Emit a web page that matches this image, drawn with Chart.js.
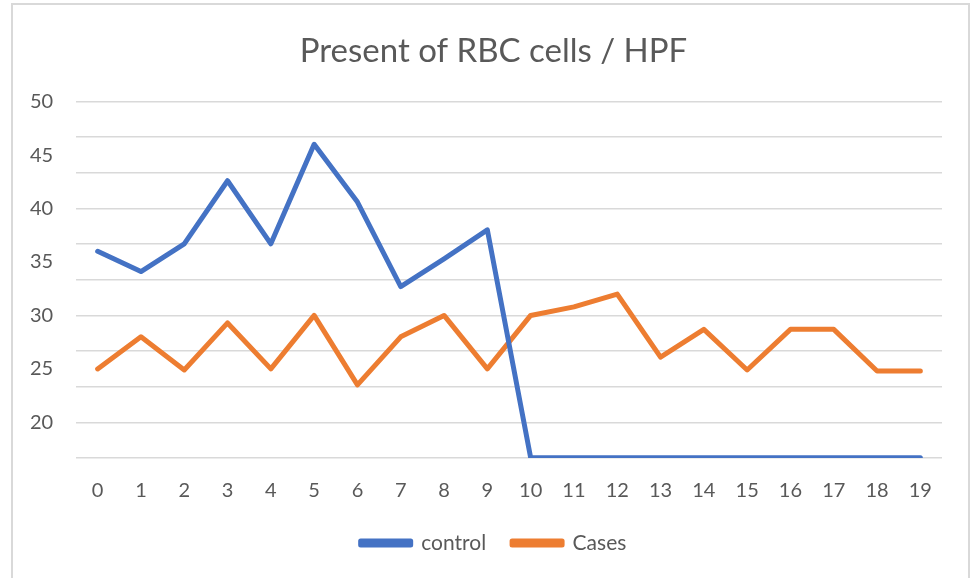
<!DOCTYPE html>
<html>
<head>
<meta charset="utf-8">
<script src="https://cdn.jsdelivr.net/npm/chart.js@4"></script>
<style>
  html, body { margin: 0; padding: 0; background: #fff; }
  #wrap { position: relative; width: 974px; height: 578px; overflow: hidden; }
  #frame { position: absolute; left: 11px; top: 3px; width: 959px; height: 600px; border: 2px solid #d9d9d9; box-sizing: border-box; }
  #myChart { position: absolute; left: 0; top: 0; }
</style>
</head>
<body>
<div id="wrap">
  <div id="frame"></div>
  <canvas id="myChart" width="974" height="578"></canvas>
</div>
<script>
// categories and series
var labels = ['0', '1', '2', '3', '4', '5', '6', '7', '8', '9', '10', '11', '12', '13', '14', '15', '16', '17', '18', '19'];
var control = [36, 34.1, 36.7, 42.6, 36.7, 46, 40.6, 32.7, 35.3, 38, 16.7, 16.7, 16.7, 16.7, 16.7, 16.7, 16.7, 16.7, 16.7, 16.7];
var cases = [25, 28, 24.9, 29.3, 25, 30, 23.5, 28, 30, 25, 30, 30.8, 32, 26.1, 28.7, 24.9, 28.7, 28.7, 24.8, 24.8];
// printed y labels, and the (odd) gridline positions of the original
var yTicks = [20, 25, 30, 35, 40, 45, 50];
var yGridLines = [16.667, 20, 23.333, 26.667, 30, 33.333, 36.667, 40, 43.333, 46.667, 50];

var textColor = '#595959';
var font = "Lato, 'Open Sans', sans-serif";

var ctx = document.getElementById('myChart').getContext('2d');
var myChart = new Chart(ctx, {
    type: 'line',
    data: {
        labels: labels,
        datasets: [{
            label: 'control',
            data: control,
            borderColor: '#4472C4',
            backgroundColor: '#4472C4',
            borderWidth: 5,
            pointRadius: 0,
            tension: 0,
            borderJoinStyle: 'round',
            borderCapStyle: 'round',
            yAxisID: 'y'
        }, {
            label: 'Cases',
            data: cases,
            borderColor: '#ED7D31',
            backgroundColor: '#ED7D31',
            borderWidth: 5,
            pointRadius: 0,
            tension: 0,
            borderJoinStyle: 'round',
            borderCapStyle: 'round',
            yAxisID: 'y'
        }]
    },
    options: {
        responsive: false,
        animation: false,
        layout: {
            padding: { left: 45, right: 32, top: 0, bottom: 14.5 }
        },
        scales: {
            x: {
                offset: true,
                grid: { display: false, drawTicks: false },
                border: { display: false },
                afterFit: function (axis) { axis.height = 48.5; },
                ticks: { color: textColor, font: { family: font, size: 20 }, padding: 21, maxRotation: 0 }
            },
            yGrid: {
                position: 'left',
                min: 50 - 100 / 3,
                max: 50,
                afterBuildTicks: function (axis) {
                    axis.ticks = yGridLines.map(function (v) { return { value: v }; });
                },
                afterFit: function (axis) { axis.width = 0; },
                ticks: { display: false },
                grid: { color: '#d9d9d9', lineWidth: 1.5, drawTicks: false },
                border: { display: false }
            },
            y: {
                position: 'left',
                min: 50 - 100 / 3,
                max: 50,
                afterBuildTicks: function (axis) {
                    axis.ticks = yTicks.map(function (v) { return { value: v }; });
                },
                afterFit: function (axis) { axis.width = 31; },
                grid: { display: false, drawTicks: false },
                border: { display: false },
                // mirror turns off the label clipping so the labels can sit left of the axis box
                ticks: { color: textColor, font: { family: font, size: 20 }, mirror: true, padding: -46 }
            }
        },
        plugins: {
            title: {
                display: true,
                text: 'Present of RBC cells / HPF',
                color: textColor,
                font: { family: font, size: 33, weight: 'normal' },
                padding: { top: 32, bottom: 30 }
            },
            legend: {
                display: true,
                position: 'bottom',
                labels: {
                    color: textColor,
                    font: { family: font, size: 21 },
                    boxWidth: 50,
                    boxHeight: 4,
                    padding: 26
                }
            },
            tooltip: { enabled: false }
        }
    }
});
</script>
</body>
</html>
